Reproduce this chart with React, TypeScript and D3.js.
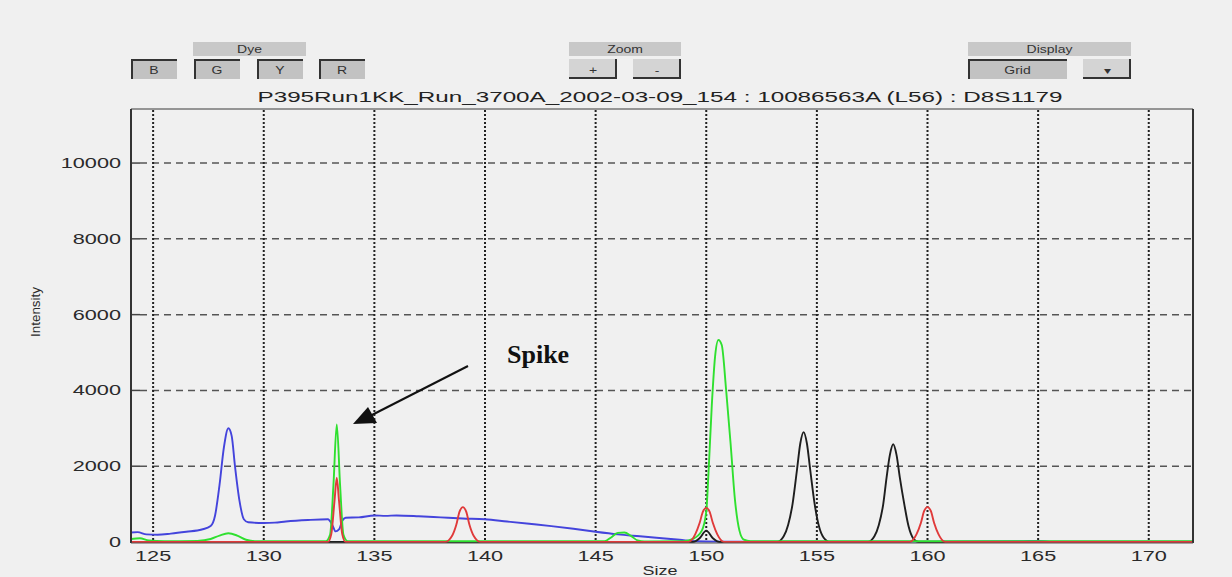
import React from "react";
import * as d3 from "d3";

// size (bp) / intensity pairs
const blueTrace: [number, number][] = [
  [124, 250], [124.3, 260], [124.7, 200], [125.2, 190], [125.8, 220], [126.5, 270],
  [127.2, 330], [127.6, 420], [127.8, 700], [128.0, 1500], [128.2, 2500], [128.4, 3000],
  [128.55, 2800], [128.7, 2000], [128.9, 1100], [129.1, 600], [129.3, 520], [130, 500],
  [130.5, 510], [131, 540], [132, 580], [132.9, 600], [133.1, 450], [133.25, 280],
  [133.4, 330], [133.55, 560], [133.7, 640], [134.3, 650], [135, 700], [135.5, 690],
  [136, 700], [137, 680], [138, 650], [139, 620], [140, 600], [141, 540], [142, 480],
  [143, 420], [144, 350], [145, 270], [146, 200], [147, 150], [148, 100], [148.8, 60],
  [149.5, 20], [150.5, 10], [152, 10], [160, 10], [164.2, 20], [165, 30], [165.5, 10], [172, 10],
];

const greenTrace: [number, number][] = [
  [124, 80], [124.4, 100], [124.8, 40], [125.5, 20], [127, 30], [127.6, 80], [128, 170],
  [128.4, 230], [128.8, 170], [129.2, 60], [129.6, 20], [132.8, 20], [133.0, 200],
  [133.15, 1500], [133.3, 3100], [133.45, 1500], [133.6, 200], [133.8, 20], [145.4, 20],
  [145.7, 120], [146.0, 240], [146.3, 250], [146.6, 160], [146.9, 40], [147.2, 15],
  [149.0, 20], [149.4, 80], [149.8, 300], [150.0, 800], [150.1, 1800], [150.25, 3600],
  [150.4, 4900], [150.55, 5330], [150.7, 5200], [150.9, 4000], [151.1, 2600], [151.3, 1100],
  [151.5, 300], [151.7, 60], [152, 20], [172, 20],
];

const redTrace: [number, number][] = [
  [124, 0], [132.9, 0], [133.05, 200], [133.2, 1100], [133.3, 1700], [133.4, 1100],
  [133.55, 200], [133.7, 0], [138.2, 0], [138.5, 150], [138.7, 450], [138.85, 800],
  [139.0, 920], [139.15, 800], [139.3, 450], [139.5, 150], [139.8, 0], [149.2, 0],
  [149.5, 200], [149.7, 500], [149.85, 800], [150.0, 900], [150.15, 800], [150.3, 500],
  [150.5, 200], [150.8, 0], [159.2, 0], [159.5, 200], [159.7, 500], [159.85, 820],
  [160.0, 920], [160.15, 820], [160.3, 500], [160.5, 200], [160.8, 0], [172, 0],
];

const blackTrace: [number, number][] = [
  [124, 0], [149.4, 0], [149.7, 100], [150.0, 300], [150.3, 100], [150.6, 0], [153.2, 0],
  [153.5, 150], [153.7, 450], [153.9, 1000], [154.1, 1900], [154.25, 2600], [154.4, 2900],
  [154.55, 2600], [154.7, 1900], [154.9, 1000], [155.1, 400], [155.3, 120], [155.6, 0],
  [157.3, 0], [157.6, 150], [157.8, 450], [158.0, 1000], [158.15, 1700], [158.3, 2300],
  [158.45, 2580], [158.6, 2300], [158.75, 1700], [158.95, 1000], [159.15, 400],
  [159.35, 100], [159.6, 0], [172, 0],
];

const xTicks = [125, 130, 135, 140, 145, 150, 155, 160, 165, 170];
const yTicks = [0, 2000, 4000, 6000, 8000, 10000];
const dyeButtons = ["B", "G", "Y", "R"];
const title = "P395Run1KK_Run_3700A_2002-03-09_154 : 10086563A (L56) : D8S1179";

const W = 1232, H = 577;
const left = 131, right = 1193, top = 110, bottom = 542;
const SX = 1.55; // the screenshot is stretched sideways

const x = d3.scaleLinear().domain([124, 172]).range([left, right]);
const y = d3.scaleLinear().domain([0, 11400]).range([bottom, top]);

const line = d3
  .line<[number, number]>()
  .x((d) => x(d[0]))
  .y((d) => y(d[1]))
  .curve(d3.curveMonotoneX);

const font = "'Liberation Sans', Arial, sans-serif";

// text stretched horizontally like the source
const SText = ({ x: tx, y: ty, children, anchor = "middle", size = 14, fill = "#2a2a2a", sx = SX }: any) => (
  <text
    transform={`translate(${tx},${ty}) scale(${sx},1)`}
    textAnchor={anchor}
    fontFamily={font}
    fontSize={size}
    fill={fill}
  >
    {children}
  </text>
);

// pressed = dark top/left edge, else dark right/bottom
const Button = ({ x0, x1, label, pressed }: any) => {
  const y0 = 59, y1 = 79;
  return (
    <g>
      <rect x={x0} y={y0} width={x1 - x0} height={y1 - y0} fill={pressed ? "#c2c2c2" : "#d4d4d4"} />
      {pressed ? (
        <path d={`M${x0 + 1},${y1} V${y0 + 1} H${x1}`} stroke="#333" strokeWidth={2} fill="none" />
      ) : (
        <path d={`M${x0},${y1 - 1} H${x1 - 1} V${y0}`} stroke="#333" strokeWidth={2} fill="none" />
      )}
      <SText x={(x0 + x1) / 2} y={74} size={10} sx={1.4} fill="#333">{label}</SText>
    </g>
  );
};

const Header = ({ x0, x1, label }: any) => (
  <g>
    <rect x={x0} y={42} width={x1 - x0} height={14} fill="#c8c8c8" />
    <SText x={(x0 + x1) / 2} y={53} size={10} sx={1.4} fill="#333">{label}</SText>
  </g>
);

export default function App() {
  const dyeX = [131, 194, 257, 319];
  return (
    <svg width={W} height={H} style={{ position: "absolute", left: 0, top: 0, background: "#f0f0f0" }}>
      <rect width={W} height={H} fill="#f0f0f0" />

      {/* control strip */}
      <Header x0={193} x1={306} label="Dye" />
      {dyeButtons.map((b, i) => (
        <Button key={b} x0={dyeX[i]} x1={dyeX[i] + 46} label={b} pressed />
      ))}
      <Header x0={569} x1={681} label="Zoom" />
      <Button x0={569} x1={617} label="+" pressed={false} />
      <Button x0={633} x1={681} label="-" pressed={false} />
      <Header x0={968} x1={1131} label="Display" />
      <Button x0={968} x1={1067} label="Grid" pressed />
      <Button x0={1083} x1={1131} label="▾" pressed={false} />

      <text x={660} y={102} textAnchor="middle" fontFamily={font} fontSize={14} fill="#222"
        textLength={805} lengthAdjust="spacingAndGlyphs">{title}</text>

      {/* grid */}
      {yTicks.filter((t) => t > 0).map((t) => (
        <g key={t}>
          <line x1={left} x2={left + 9} y1={y(t)} y2={y(t)} stroke="#444" strokeWidth={1.5} />
          <line x1={left + 9} x2={right} y1={y(t)} y2={y(t)} stroke="#555" strokeWidth={1.5} strokeDasharray="7,5" />
        </g>
      ))}
      {xTicks.map((t) => (
        <line key={t} x1={x(t)} x2={x(t)} y1={top} y2={bottom} stroke="#222" strokeWidth={2} strokeDasharray="2,2" />
      ))}

      {/* traces */}
      <defs>
        <clipPath id="plot">
          <rect x={left} y={top} width={right - left} height={bottom - top + 1} />
        </clipPath>
      </defs>
      <g clipPath="url(#plot)" fill="none" strokeWidth={1.9} strokeLinejoin="round">
        <path d={line(blueTrace) || ""} stroke="#4444dc" />
        <path d={line(blackTrace) || ""} stroke="#1e1e1e" />
        <path d={line(greenTrace) || ""} stroke="#2fe02f" />
        <path d={line(redTrace) || ""} stroke="#e03a3a" />
      </g>

      {/* frame */}
      <line x1={left} x2={right} y1={top - 1} y2={top - 1} stroke="#777" strokeWidth={1.5} />
      <line x1={left} x2={left} y1={top - 1} y2={bottom + 1} stroke="#333" strokeWidth={2} />
      <line x1={right} x2={right} y1={top - 1} y2={bottom + 1} stroke="#333" strokeWidth={2} />
      <line x1={left} x2={right} y1={bottom + 1} y2={bottom + 1} stroke="#555" strokeWidth={1} />

      {/* tick labels */}
      {yTicks.map((t) => (
        <SText key={t} x={121} y={y(t) + 5} anchor="end" size={14}>{t}</SText>
      ))}
      {xTicks.map((t) => (
        <SText key={t} x={x(t)} y={561} size={14}>{t}</SText>
      ))}
      <SText x={660} y={575} size={12} sx={1.5}>Size</SText>
      <text transform="translate(40,312) rotate(-90)" textAnchor="middle" fontFamily={font} fontSize={12}
        fill="#2a2a2a" textLength={50} lengthAdjust="spacingAndGlyphs">Intensity</text>

      {/* annotation */}
      <text x={507} y={363} fontFamily="'Liberation Serif', 'Times New Roman', serif" fontWeight="bold"
        fontSize={26} fill="#111">Spike</text>
      <line x1={468} y1={366} x2={368} y2={417} stroke="#111" strokeWidth={2} />
      <polygon points="353,424 368,407 377,423" fill="#111" />
    </svg>
  );
}
